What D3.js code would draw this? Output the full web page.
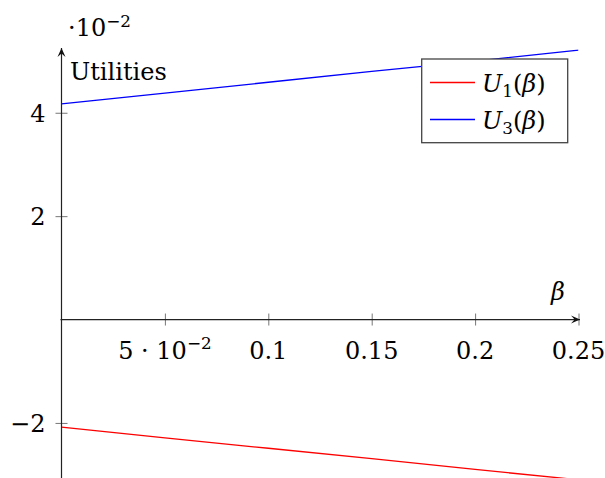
<!DOCTYPE html>
<html><head><meta charset="utf-8">
<script src="https://cdn.jsdelivr.net/npm/d3@7"></script>
<style>
body{margin:0;background:#fff;}
text{font-family:"DejaVu Serif";}
</style></head>
<body><svg id="c" width="605" height="478"></svg>
<script>
const beta = [0, 0.05, 0.1, 0.15, 0.2, 0.25];
const U1 = [-0.0208, -0.0229, -0.0249, -0.0269, -0.0290, -0.0310];
const U3 = [0.0417, 0.0438, 0.0459, 0.0480, 0.0500, 0.0521];
const xTicks = [0.05, 0.1, 0.15, 0.2, 0.25];
const xTickLabels = ["5 · 10^−2", "0.1", "0.15", "0.2", "0.25"];
const yTicks = [-0.02, 0.02, 0.04];
const yTickLabels = ["−2", "2", "4"];
const seriesNames = ["1", "3"];
const seriesColors = ["#ff0000", "#0000ff"];

const svg = d3.select("#c");
const x = d3.scaleLinear().domain([0, 0.25]).range([61.5, 578.5]);
const y = d3.scaleLinear().domain([-0.031, 0.0521]).range([479.8, 50.2]);
const FS = 24;

svg.append("defs").append("clipPath").attr("id","clip")
  .append("rect").attr("x", x(0)).attr("y", y(0.0521)-1).attr("width", x(0.25)-x(0)).attr("height", y(-0.031)-y(0.0521)+2);

const line = d3.line().x((d,i)=>x(beta[i])).y(d=>y(d));
const series = [U1, U3];
series.forEach((s,k)=>{
  svg.append("path").datum(s).attr("d", line).attr("fill","none")
    .attr("stroke", seriesColors[k]).attr("stroke-width",1.3).attr("clip-path","url(#clip)");
});

const ax = svg.append("g").attr("transform",`translate(0,${y(0)})`)
  .call(d3.axisBottom(x).tickValues(xTicks).tickSize(6).tickFormat(""));
ax.select(".domain").remove();
ax.selectAll(".tick line").attr("y1",-6).attr("y2",6).attr("stroke","#777").attr("stroke-width",1);
const ay = svg.append("g").attr("transform",`translate(${x(0)},0)`)
  .call(d3.axisLeft(y).tickValues(yTicks).tickSize(6).tickFormat(""));
ay.select(".domain").remove();
ay.selectAll(".tick line").attr("x1",-6).attr("x2",6).attr("stroke","#777").attr("stroke-width",1);

function arrow(x1,y1,x2,y2){
  svg.append("line").attr("x1",x1).attr("y1",y1).attr("x2",x2).attr("y2",y2)
    .attr("stroke","#222").attr("stroke-width",1.2);
  const a = Math.atan2(y2-y1,x2-x1), L=9, Wd=4;
  const bx = x2 - L*Math.cos(a), by = y2 - L*Math.sin(a);
  const nx = -Math.sin(a), ny = Math.cos(a);
  const mx = x2 - 0.6*L*Math.cos(a), my = y2 - 0.6*L*Math.sin(a);
  svg.append("path").attr("d",`M${x2},${y2}L${bx+nx*Wd},${by+ny*Wd}L${mx},${my}L${bx-nx*Wd},${by-ny*Wd}Z`).attr("fill","#111");
}
arrow(x(0)-1, y(0), x(0.25)+1.5, y(0));
arrow(x(0), 478, x(0), 48);

function richText(g, s, size){
  const parts = s.split("^");
  g.append("tspan").text(parts[0]);
  if(parts[1]) g.append("tspan").attr("font-size", size*0.7).attr("dy", -size*0.38).text(parts[1]);
}
xTicks.forEach((v,i)=>{
  const t = svg.append("text").attr("x", x(v)).attr("y", y(0)+39).attr("text-anchor","middle").attr("font-size",FS);
  richText(t, xTickLabels[i], FS);
});
yTicks.forEach((v,i)=>{
  svg.append("text").attr("x", x(0)-16).attr("y", y(v)+9).attr("text-anchor","end").attr("font-size",FS).text(yTickLabels[i]);
});

const sc = svg.append("text").attr("x",68).attr("y",36).attr("font-size",FS);
richText(sc, "·10^−2", FS);

svg.append("text").attr("x",70).attr("y",80).attr("font-size",FS).text("Utilities");
svg.append("text").attr("x",558).attr("y",300).attr("text-anchor","middle").attr("font-size",FS).attr("font-style","italic").text("β");

const lg = svg.append("g");
lg.append("rect").attr("x",421.7).attr("y",59).attr("width",146).attr("height",83.7)
  .attr("fill","#fff").attr("stroke","#444").attr("stroke-width",1.3);
seriesNames.forEach((n,k)=>{
  const cy = 82.5 + k*37;
  lg.append("line").attr("x1",430).attr("x2",475).attr("y1",cy).attr("y2",cy)
    .attr("stroke",seriesColors[k]).attr("stroke-width",1.3);
  const t = lg.append("text").attr("x",482).attr("y",cy+9).attr("font-size",FS);
  t.append("tspan").attr("font-style","italic").text("U");
  t.append("tspan").attr("font-size",FS*0.7).attr("dy",5).text(n);
  t.append("tspan").attr("dy",-5).text("(");
  t.append("tspan").attr("font-style","italic").text("β");
  t.append("tspan").text(")");
});
</script></body></html>
